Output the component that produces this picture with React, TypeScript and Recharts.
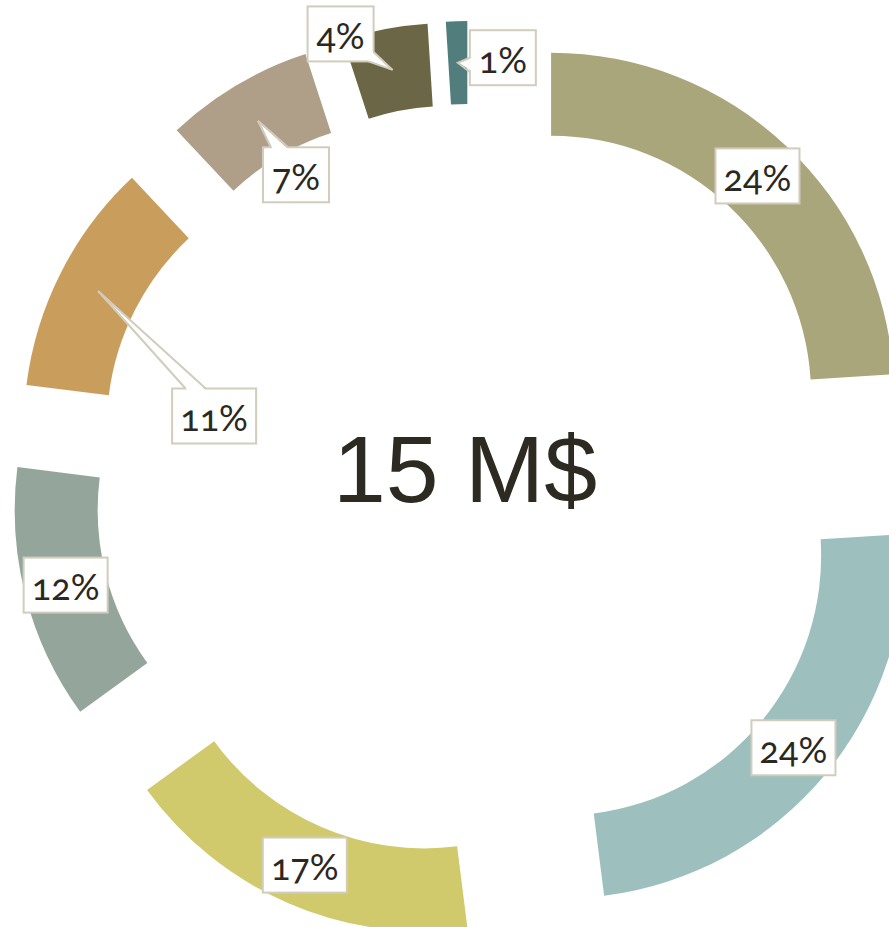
import React from 'react';
import { PieChart, Pie, Cell } from 'recharts';

// ---- data ----
const categories = ['Segment A', 'Segment B', 'Segment C', 'Segment D', 'Segment E', 'Segment F', 'Segment G', 'Segment H'];
const shares = [24, 24, 17, 12, 11, 7, 4, 1];
const centerLabel = '15 M$';

// ---- styles / layout ----
const COLORS = ['#a9a67c', '#9dbfbe', '#d1ca6c', '#94a59c', '#c99e5c', '#b09f88', '#6b6746', '#517e7c'];
const W = 889;
const H = 927;
const CX = 471;
const CY = 481;
const INNER = 260;
const OUTER = 343;
const EXPLODE = 117;
const RAD = Math.PI / 180;
const BOX_H = 55;
const BORDER = '#d2ccbc';
const TEXT = '#2b2821';

type Callout = { dx: number; dy: number; base: [number, number][] } | null;
const labelLayout: Callout[] = [
  null,
  null,
  null,
  null,
  { dx: 116, dy: 125, base: [[0.16, 0], [0.4, 0]] },
  { dx: 38, dy: 54, base: [[0.12, 0], [0.38, 0]] },
  { dx: -52, dy: -36, base: [[1, 0.83], [0.92, 1]] },
  { dx: 45, dy: -5, base: [[0, 0.5], [0, 0.76]] },
];

const total = shares.reduce((a, b) => a + b, 0);
const slices = (() => {
  let cum = 0;
  return shares.map((v, i) => {
    const s = (cum / total) * 360;
    cum += v;
    const e = (cum / total) * 360;
    const mid = (s + e) / 2;
    return {
      data: [{ name: categories[i], value: v }],
      startAngle: 90 - s,
      endAngle: 90 - e,
      cx: CX + EXPLODE * Math.sin(mid * RAD),
      cy: CY - EXPLODE * Math.cos(mid * RAD),
      text: `${Math.round((v / total) * 100)}%`,
    };
  });
})();

function renderLabel(props: any, i: number) {
  const { cx, cy, midAngle, innerRadius, outerRadius } = props;
  const mr = (innerRadius + outerRadius) / 2;
  const ax = cx + mr * Math.cos(-midAngle * RAD);
  const ay = cy + mr * Math.sin(-midAngle * RAD);
  const lay = labelLayout[i];
  const bx = ax + (lay ? lay.dx : 0);
  const by = ay + (lay ? lay.dy : 0);
  const text = slices[i].text;
  const digits = text.length - 1;
  const bw = 48 + 18 * digits;
  const left = bx - bw / 2;
  const top = by - BOX_H / 2;
  let callout: React.ReactNode = null;
  if (lay) {
    const pts = lay.base.map(([fx, fy]) => [left + fx * bw, top + fy * BOX_H]);
    const inner = pts.map(([px, py]) => {
      const vx = bx - px;
      const vy = by - py;
      const l = Math.hypot(vx, vy) || 1;
      return [px + (vx / l) * 2.5, py + (vy / l) * 2.5];
    });
    callout = (
      <g>
        <polygon
          points={`${ax},${ay} ${inner[0][0]},${inner[0][1]} ${inner[1][0]},${inner[1][1]}`}
          fill="#ffffff"
          stroke="none"
        />
        <path
          d={`M${pts[0][0]},${pts[0][1]} L${ax},${ay} L${pts[1][0]},${pts[1][1]}`}
          fill="none"
          stroke={BORDER}
          strokeWidth={2}
          strokeLinejoin="miter"
        />
      </g>
    );
  }
  return (
    <g key={`lbl-${i}`}>
      <rect x={left} y={top} width={bw} height={BOX_H} fill="#ffffff" stroke={BORDER} strokeWidth={2} />
      {callout}
      <text
        x={bx}
        y={by + 1}
        textAnchor="middle"
        dominantBaseline="central"
        fill={TEXT}
        style={{ fontFamily: 'Lato, "Noto Sans", sans-serif', fontSize: 36, fontVariantNumeric: 'oldstyle-nums', fontFeatureSettings: '"onum" 1' }}
      >
        {text}
      </text>
    </g>
  );
}

export default function App() {
  return (
    <div style={{ position: 'absolute', left: 0, top: 0, width: W, height: H, background: '#ffffff' }}>
      <PieChart width={W} height={H} margin={{ top: 0, right: 0, bottom: 0, left: 0 }}>
        {slices.map((s, i) => (
          <Pie
            key={`pie-${i}`}
            data={s.data}
            dataKey="value"
            nameKey="name"
            cx={s.cx}
            cy={s.cy}
            startAngle={s.startAngle}
            endAngle={s.endAngle}
            innerRadius={INNER}
            outerRadius={OUTER}
            stroke="none"
            isAnimationActive={false}
            labelLine={false}
            label={(p: any) => renderLabel(p, i)}
          >
            <Cell fill={COLORS[i]} stroke="none" />
          </Pie>
        ))}
        <text
          x={465}
          y={502}
          textAnchor="middle"
          fill="#2d2a21"
          style={{ fontFamily: '"Liberation Sans", Arial, sans-serif', fontSize: 95 }}
        >
          {centerLabel}
        </text>
      </PieChart>
    </div>
  );
}
